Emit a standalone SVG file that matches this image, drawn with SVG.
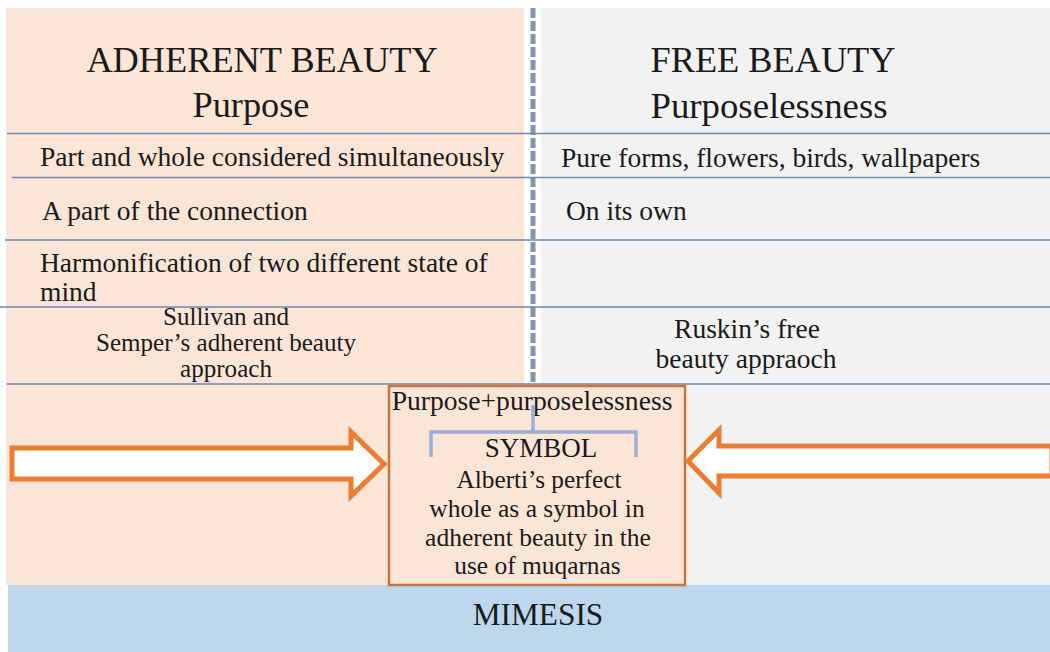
<svg xmlns="http://www.w3.org/2000/svg" width="1050" height="652" viewBox="0 0 1050 652">
  <style>
    text { font-family: "Liberation Serif", "Times New Roman", serif; fill: #1a1a1a; }
    .head { font-size: 36.3px; text-anchor: middle; }
    .row { font-size: 27.5px; }
    .mid { text-anchor: middle; }
    .rule { stroke: #6a87b6; stroke-width: 1.5; fill: none; }
    .block-arrow { fill: #ffffff; stroke: #ed7d31; stroke-width: 5; stroke-linejoin: miter; }
    .bracket { fill: none; stroke: #9aaed6; stroke-width: 3.5; }
  </style>

  <!-- background panels -->
  <rect x="0" y="0" width="1050" height="652" fill="#ffffff"/>
  <g id="adherent-panel">
    <rect x="6" y="8" width="518" height="577" fill="#fbe5d6"/>
  </g>
  <g id="free-panel">
    <rect x="541" y="8" width="509" height="577" fill="#f2f2f2"/>
    <rect x="523" y="384" width="19" height="201" fill="#f2f2f2"/>
  </g>

  <!-- dashed divider between the two columns -->
  <line x1="533" y1="8" x2="533" y2="382" stroke="#8494ae" stroke-width="5" stroke-dasharray="10 3"/>

  <!-- row rules -->
  <g id="rules">
    <line class="rule" x1="7" y1="133.5" x2="1050" y2="133.5"/>
    <line class="rule" x1="12" y1="177.5" x2="1050" y2="177.5"/>
    <line class="rule" x1="5" y1="240" x2="1050" y2="240"/>
    <line class="rule" x1="0" y1="307" x2="1050" y2="307"/>
    <line class="rule" x1="7" y1="384" x2="1050" y2="384"/>
  </g>

  <!-- column headings -->
  <g id="adherent-heading">
    <text class="head" x="262" y="72">ADHERENT BEAUTY</text>
    <text class="head" x="251" y="117">Purpose</text>
  </g>
  <g id="free-heading">
    <text class="head" x="773" y="72">FREE BEAUTY</text>
    <text class="head" x="769" y="118" style="font-size:36.8px">Purposelessness</text>
  </g>

  <!-- adherent beauty rows -->
  <g id="row-part-whole">
    <text class="row" x="40" y="166">Part and whole considered simultaneously</text>
  </g>
  <g id="row-connection">
    <text class="row" x="42" y="220">A part of the connection</text>
  </g>
  <g id="row-harmonification">
    <text class="row" x="40" y="272">Harmonification of two different state of</text>
    <text class="row" x="40" y="301">mind</text>
  </g>
  <g id="row-sullivan">
    <text class="row mid" x="226" y="325" style="font-size:25.1px">Sullivan and</text>
    <text class="row mid" x="226" y="351" style="font-size:25.1px">Semper’s adherent beauty</text>
    <text class="row mid" x="226" y="377" style="font-size:25.1px">approach</text>
  </g>

  <!-- free beauty rows -->
  <g id="row-pure-forms">
    <text class="row" x="561" y="167">Pure forms, flowers, birds, wallpapers</text>
  </g>
  <g id="row-own">
    <text class="row" x="566" y="220">On its own</text>
  </g>
  <g id="row-ruskin">
    <text class="row mid" x="747" y="338">Ruskin’s free</text>
    <text class="row mid" x="746" y="368">beauty appraoch</text>
  </g>

  <!-- mimesis band -->
  <g id="mimesis">
    <rect x="8" y="585" width="1042" height="67" fill="#bdd7ee"/>
    <text x="538" y="625" text-anchor="middle" style="font-size:31.3px">MIMESIS</text>
  </g>

  <!-- central symbol box -->
  <g id="symbol-box">
    <rect x="389" y="386" width="296" height="199" fill="#fbe5d6" stroke="#c8743c" stroke-width="2.5"/>
    <text class="mid" x="532" y="410" style="font-size:27.6px">Purpose+purposelessness</text>
    <text class="mid" x="541" y="457" style="font-size:27px">SYMBOL</text>
    <text class="mid" x="539" y="488" style="font-size:25.3px">Alberti’s perfect</text>
    <text class="mid" x="537" y="517" style="font-size:25.5px">whole as a symbol in</text>
    <text class="mid" x="538" y="546" style="font-size:25.5px">adherent beauty in the</text>
    <text class="mid" x="537.5" y="574" style="font-size:25.4px">use of muqarnas</text>
  </g>

  <!-- connectors: block arrows and bracket -->
  <g id="connectors">
    <path class="block-arrow" d="M12,448 L351,448 L351,432 L384,464 L351,496 L351,479 L12,479 Z"/>
    <path class="block-arrow" d="M1052,446 L719,446 L719,430 L688,461 L719,493 L719,476 L1052,476 Z"/>
    <path class="bracket" d="M533,405 L533,432 M431,457 L431,432 L636,432 L636,457"/>
  </g>
</svg>
